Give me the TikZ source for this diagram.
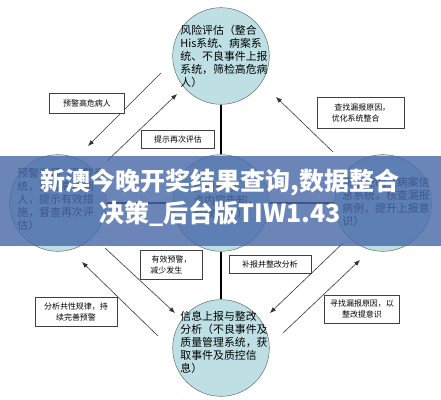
\documentclass[tikz,border=0pt]{standalone}
\usepackage{fontspec}
\setmainfont{Noto Sans CJK SC}
\usepackage{xcolor}
\usepackage{tikz}
\usetikzlibrary{arrows.meta}

\definecolor{stagefill}{RGB}{190,224,228}
\definecolor{stageline}{RGB}{95,105,115}
\definecolor{bandblue}{RGB}{74,106,170}

\tikzset{
  stage/.style={draw=stageline, circle, fill=stagefill, minimum size=2.9cm, inner sep=0pt},
  stagetext/.style={align=left, inner sep=0pt, font=\fontsize{9.3}{11.1}\selectfont},
  note/.style={draw=black!75, fill=white, align=left, inner sep=2pt, font=\fontsize{6.8}{9}\selectfont},
  spine/.style={line width=1.6pt, black},
  link/.style={line width=0.5pt, black!80, -{Latex[length=5pt,width=4pt]}},
  headline/.style={text=white, font=\fontsize{21.3}{21.3}\selectfont\bfseries, inner sep=0pt},
}

\begin{document}
\begin{tikzpicture}[x=0.03cm, y=-0.03cm]
\useasboundingbox (0,0) rectangle (441,400);

% the five stages
\node[stage] (risk) at (221,56) {};
\node[stagetext] (risk-t) at (224,56) {风险评估（整合\\His系统、病案系\\统、不良事件上报\\系统，筛检高危病\\人）};
\node[stage] (warn) at (58,203) {};
\node[stagetext] (warn-t) at (61,199) {预警干预（预警系\\统，预警高危病\\人，提示有效措\\施，督查再次评\\估）};
\node[stage] (care) at (221,203) {};
\node[stagetext] (care-t) at (226,200) {护理干预（重\\点内容告知，\\有效预防）};
\node[stage] (check) at (383,203) {};
\node[stagetext] (check-t) at (386,202) {质量控制（病案信\\息系统，核查漏报\\病例，提升上报意\\识）};
\node[stage] (report) at (221,348) {};
\node[stagetext] (report-t) at (224,342) {信息上报与整改\\分析（不良事件及\\质量管理系统，获\\取事件及质控信\\息）};

% main axis
\draw[spine] (risk) -- (care);
\draw[spine] (care) -- (report);
\draw[spine] (warn) -- (care);
\draw[spine] (care) -- (check);

% diagonal links
\coordinate (a1) at (161,73);
\coordinate (a2) at (88,146);
\coordinate (b1) at (107,161);
\coordinate (b2) at (177,94);
\coordinate (c1) at (333,152);
\coordinate (c2) at (276,97);
\coordinate (d1) at (105,248);
\coordinate (d2) at (175,313);
\coordinate (e1) at (158,336);
\coordinate (e2) at (82,262);
\coordinate (f1) at (343,243);
\coordinate (f2) at (270,313);
\coordinate (g1) at (283,333);
\coordinate (g2) at (360,260);
\draw[link] (a1) -- (a2);
\draw[link] (b1) -- (b2);
\draw[link] (c1) -- (c2);
\draw[link] (d1) -- (d2);
\draw[link] (e1) -- (e2);
\draw[link] (f1) -- (f2);
\draw[link] (g1) -- (g2);

% notes
\node[note, minimum width=2.25cm, minimum height=0.6cm, align=center] (n1) at (87,103) {预警高危病人};
\node[note, minimum width=2.2cm, minimum height=0.54cm, align=center] (n2) at (178,139) {提示再次评估};
\node[note, minimum width=2.6cm, minimum height=0.93cm] (n3) at (361,113) {\,\,查找漏报原因，\\优化系统整合};
\node[note, minimum width=1.86cm, minimum height=0.87cm] (n4) at (171,265) {\,有效预警，\\减少发生};
\node[note, minimum width=2.46cm, minimum height=0.54cm, align=center] (n5) at (270,264) {补报并整改分析};
\node[note, minimum width=2.46cm, minimum height=0.87cm, align=center] (n6) at (76,312) {分析共性规律，持\\续完善预警};
\node[note, minimum width=2.25cm, minimum height=0.84cm, align=center] (n7) at (362,309) {寻找漏报原因，以\\整改提意识};

% banner
\fill[bandblue, opacity=0.82] (0,156) rectangle (441,246);
\node[headline] (head1) at (220,182) {新澳今晚开奖结果查询,数据整合};
\node[headline] (head2) at (220,214) {决策\_后台版TIW1.43};
\end{tikzpicture}
\end{document}
